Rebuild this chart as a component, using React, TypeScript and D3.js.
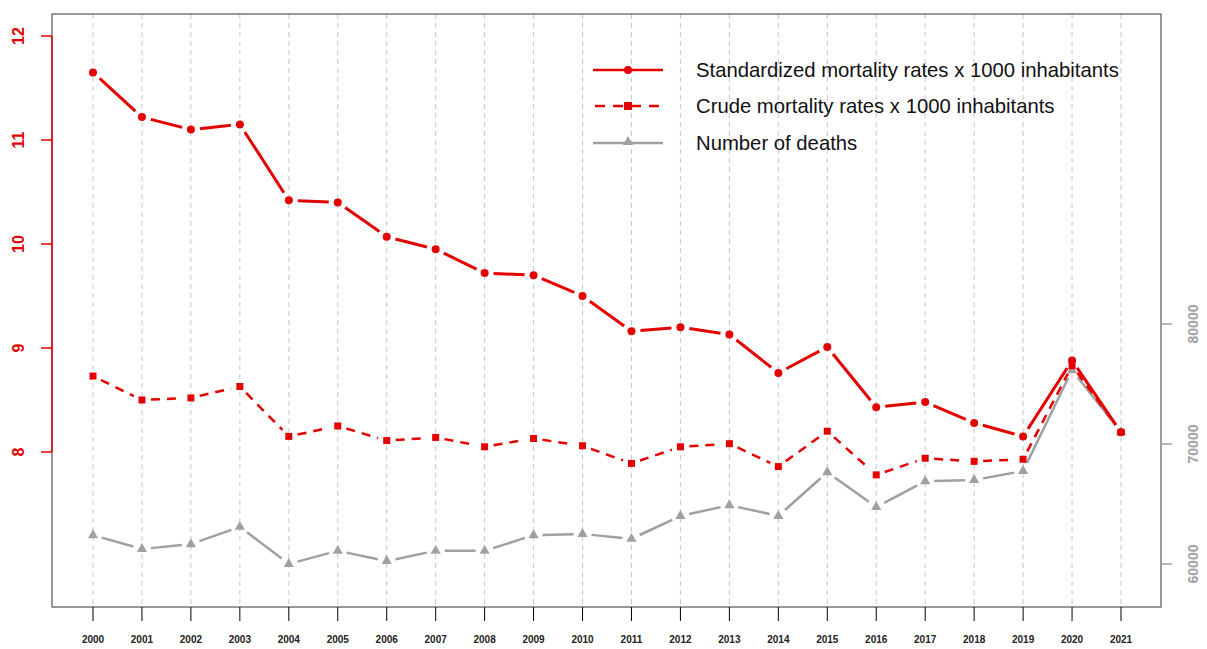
import React from 'react';
import * as d3 from 'd3';

const years = d3.range(2000, 2022);
const standardized = [11.65, 11.22, 11.1, 11.15, 10.42, 10.4, 10.07, 9.95, 9.72, 9.7, 9.5, 9.16, 9.2, 9.13, 8.76, 9.01, 8.43, 8.48, 8.28, 8.15, 8.88, 8.19];
const crude = [8.73, 8.5, 8.52, 8.63, 8.15, 8.25, 8.11, 8.14, 8.05, 8.13, 8.06, 7.89, 8.05, 8.08, 7.86, 8.2, 7.78, 7.94, 7.91, 7.93, 8.83, 8.19];
const deaths = [62400, 61250, 61650, 63100, 60000, 61100, 60250, 61100, 61100, 62400, 62500, 62100, 64000, 64900, 64000, 67650, 64750, 66900, 67000, 67750, 76150, 71000];
const leftTicks = [8, 9, 10, 11, 12];
const rightTicks = [60000, 70000, 80000];
const legendLabels = [
  'Standardized mortality rates x 1000 inhabitants',
  'Crude mortality rates x 1000 inhabitants',
  'Number of deaths',
];

const RED = '#e50000';
const GREY = '#a0a0a0';
const W = 1207;
const H = 649;
const box = { left: 52, right: 1161, top: 14, bottom: 607 };

// segments with gaps around points, like R type = "b"
function gappedSegments(pts: [number, number][], gap: number) {
  const segs: string[] = [];
  for (let i = 0; i < pts.length - 1; i++) {
    const [x0, y0] = pts[i];
    const [x1, y1] = pts[i + 1];
    const len = Math.hypot(x1 - x0, y1 - y0);
    if (len <= gap * 2) continue;
    const ux = (x1 - x0) / len;
    const uy = (y1 - y0) / len;
    segs.push(`M${x0 + ux * gap},${y0 + uy * gap}L${x1 - ux * gap},${y1 - uy * gap}`);
  }
  return segs.join('');
}

export default function App() {
  const x = d3.scaleLinear().domain([2000, 2021]).range([93, 1121]);
  const yL = d3.scaleLinear().domain([8, 12]).range([452, 36]);
  const yR = d3.scaleLinear().domain([60000, 80000]).range([564, 324]);

  const stdPts = years.map((yr, i) => [x(yr), yL(standardized[i])] as [number, number]);
  const crudePts = years.map((yr, i) => [x(yr), yL(crude[i])] as [number, number]);
  const deathPts = years.map((yr, i) => [x(yr), yR(deaths[i])] as [number, number]);

  const tri = d3.symbol().type(d3.symbolTriangle).size(45)();
  const font = 'Liberation Sans, Arial, sans-serif';

  const legendY = [70, 106, 143];

  return (
    <svg width={W} height={H} style={{ position: 'absolute', left: 0, top: 0 }} fontFamily={font}>
      <rect width={W} height={H} fill="#fff" />
      {/* grid */}
      {years.map((yr) => (
        <line key={yr} x1={x(yr)} x2={x(yr)} y1={box.top} y2={box.bottom} stroke="#c8c8c8" strokeDasharray="5,4" strokeWidth={1} />
      ))}
      <rect x={box.left} y={box.top} width={box.right - box.left} height={box.bottom - box.top} fill="none" stroke="#555" strokeWidth={1.2} />

      {/* x axis */}
      {years.map((yr) => (
        <g key={yr}>
          <line x1={x(yr)} x2={x(yr)} y1={box.bottom} y2={box.bottom + 14} stroke="#000" />
          <text x={x(yr)} y={643} textAnchor="middle" fontSize={10} fontWeight="bold" fill="#222">{yr}</text>
        </g>
      ))}

      {/* left axis */}
      <line x1={box.left} x2={box.left} y1={yL(8)} y2={yL(12)} stroke={RED} strokeWidth={1.5} />
      {leftTicks.map((t) => (
        <g key={t}>
          <line x1={box.left - 11} x2={box.left} y1={yL(t)} y2={yL(t)} stroke={RED} strokeWidth={1.5} />
          <text transform={`translate(24,${yL(t)}) rotate(-90)`} textAnchor="middle" fontSize={16} fontWeight="bold" fill={RED}>{t}</text>
        </g>
      ))}

      {/* right axis */}
      <line x1={box.right} x2={box.right} y1={yR(60000)} y2={yR(80000)} stroke={GREY} strokeWidth={1.5} />
      {rightTicks.map((t) => (
        <g key={t}>
          <line x1={box.right} x2={box.right + 11} y1={yR(t)} y2={yR(t)} stroke={GREY} strokeWidth={1.5} />
          <text transform={`translate(1198,${yR(t)}) rotate(-90)`} textAnchor="middle" fontSize={14} fontWeight="bold" fill={GREY}>{t}</text>
        </g>
      ))}

      {/* deaths */}
      <path d={gappedSegments(deathPts, 9)} stroke={GREY} strokeWidth={2.5} fill="none" />
      {deathPts.map(([px, py], i) => (
        <path key={i} d={tri} transform={`translate(${px},${py})`} fill={GREY} />
      ))}

      {/* crude */}
      <path d={gappedSegments(crudePts, 9)} stroke={RED} strokeWidth={2.5} fill="none" strokeDasharray="9,7" />
      {crudePts.map(([px, py], i) => (
        <rect key={i} x={px - 3.5} y={py - 3.5} width={7} height={7} fill={RED} />
      ))}

      {/* standardized */}
      <path d={gappedSegments(stdPts, 9)} stroke={RED} strokeWidth={3} fill="none" />
      {stdPts.map(([px, py], i) => (
        <circle key={i} cx={px} cy={py} r={4} fill={RED} />
      ))}

      {/* legend */}
      <g>
        <line x1={593} x2={663} y1={legendY[0]} y2={legendY[0]} stroke={RED} strokeWidth={2.5} />
        <circle cx={628} cy={legendY[0]} r={4} fill={RED} />
        <line x1={593} x2={663} y1={legendY[1]} y2={legendY[1]} stroke={RED} strokeWidth={2.5} strokeDasharray="10,8" strokeDashoffset={-2} />
        <rect x={624} y={legendY[1] - 4} width={8} height={8} fill={RED} />
        <line x1={593} x2={663} y1={legendY[2]} y2={legendY[2]} stroke={GREY} strokeWidth={2.5} />
        <path d={tri} transform={`translate(628,${legendY[2] - 1})`} fill={GREY} />
        {legendLabels.map((l, i) => (
          <text key={l} x={696} y={legendY[i] + 7} fontSize={20.3} fill="#111">{l}</text>
        ))}
      </g>
    </svg>
  );
}
